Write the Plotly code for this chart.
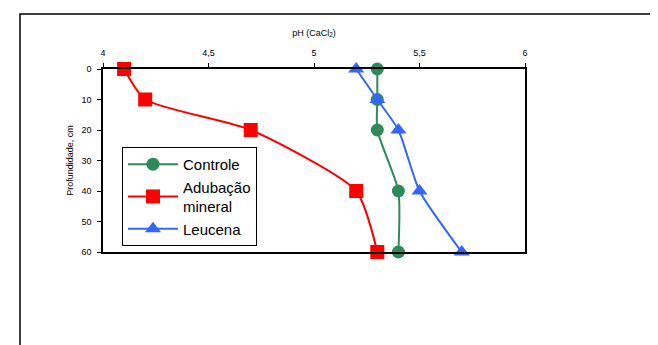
import plotly.graph_objects as go

depth = [0, 10, 20, 40, 60]
controle = [5.3, 5.3, 5.3, 5.4, 5.4]
adubacao = [4.1, 4.2, 4.7, 5.2, 5.3]
leucena = [5.2, 5.3, 5.4, 5.5, 5.7]
x_ticks = [4, 4.5, 5, 5.5, 6]
x_tick_labels = ["4", "4,5", "5", "5,5", "6"]
y_ticks = [0, 10, 20, 30, 40, 50, 60]

fig = go.Figure()
fig.add_trace(go.Scatter(x=controle, y=depth, name="Controle", mode="lines+markers", cliponaxis=False,
                         line=dict(color="#2E8B57", width=2, shape="spline", smoothing=0.6),
                         marker=dict(symbol="circle", size=13, color="#2E8B57")))
fig.add_trace(go.Scatter(x=adubacao, y=depth, name="Adubação<br>mineral", mode="lines+markers", cliponaxis=False,
                         line=dict(color="#FF0000", width=2, shape="spline", smoothing=0.6),
                         marker=dict(symbol="square", size=14, color="#FF0000")))
fig.add_trace(go.Scatter(x=leucena, y=depth, name="Leucena", mode="lines+markers", cliponaxis=False,
                         line=dict(color="#3366FF", width=2, shape="spline", smoothing=0.6),
                         marker=dict(symbol="triangle-up", size=14, color="#3366FF")))

fig.update_layout(
    width=650, height=337,
    margin=dict(l=95, r=133, t=61, b=93),
    paper_bgcolor="white", plot_bgcolor="white",
    font=dict(family="Liberation Sans, Arial, sans-serif", size=9, color="black"),
    showlegend=True,
    legend=dict(x=0.045, y=0.574, xanchor="left", yanchor="top",
                bordercolor="black", borderwidth=1, bgcolor="white",
                font=dict(size=15), itemwidth=50, tracegroupgap=0),
)
fig.update_xaxes(range=[4, 6], side="top", tickvals=x_ticks, ticktext=x_tick_labels,
                 showgrid=False, zeroline=False, showline=True, linecolor="black", linewidth=1.5,
                 mirror=True, ticks="outside", ticklen=4, tickcolor="black", ticklabelstandoff=4,
                 title=dict(text="pH (CaCl<sub>2</sub>)", standoff=10, font=dict(size=9)))
fig.update_yaxes(range=[60, 0], tickvals=y_ticks, showgrid=False, zeroline=False,
                 showline=True, linecolor="black", linewidth=1.5, mirror=True,
                 ticks="outside", ticklen=4, tickcolor="black", ticklabelstandoff=4,
                 title=dict(text="Profundidade, cm", standoff=6, font=dict(size=9)))

fig.add_shape(type="rect", xref="paper", yref="paper",
              x0=(20 - 103) / 422, x1=(700 - 103) / 422,
              y0=(252 - 400) / 183, y1=(252 - 14) / 183,
              line=dict(color="black", width=1.5), fillcolor="rgba(0,0,0,0)", layer="below")

fig.write_html("out.html")
